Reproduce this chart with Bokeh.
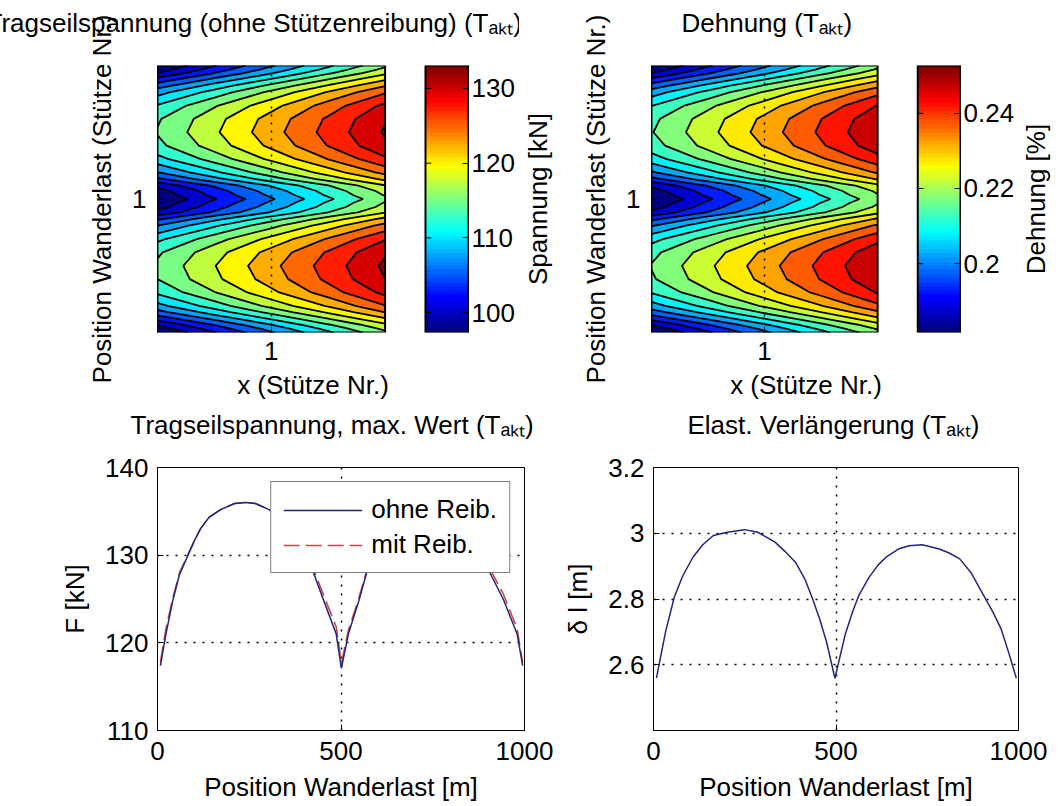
import numpy as np
from bokeh.plotting import figure
from bokeh.layouts import column, row
from bokeh.models import (FixedTicker, LinearAxis, Range1d, CustomJSTickFormatter,
                          LinearColorMapper, Legend, LegendItem)
from bokeh.embed import file_html
from bokeh.resources import INLINE

FONT = "Liberation Sans"
FS = "26px"

# ---------------- contour data (x along rope, y = load position, both in "Stütze Nr.") ----------
x_grid = [0.0, 0.5, 1.0, 1.5, 2.0]
y_grid = [0.00, 0.03, 0.06, 0.10, 0.15, 0.20, 0.30, 0.40, 0.50, 0.60, 0.70, 0.80, 0.85, 0.90,
          0.94, 0.97, 1.00, 1.03, 1.06, 1.10, 1.15, 1.20, 1.30, 1.40, 1.50, 1.60, 1.70, 1.80,
          1.85, 1.90, 1.94, 1.97, 2.00]

spannung = [
    [97.3, 102.3, 107.2, 112.0, 116.9],
    [98.8, 103.7, 108.5, 113.4, 118.2],
    [100.5, 105.3, 110.1, 114.9, 119.6],
    [103.2, 107.9, 112.6, 117.3, 122.1],
    [106.5, 111.1, 115.7, 120.3, 125.0],
    [109.2, 113.7, 118.3, 122.8, 127.4],
    [113.0, 117.4, 121.9, 126.3, 130.7],
    [115.0, 119.4, 123.7, 128.1, 132.5],
    [115.5, 119.9, 124.3, 128.6, 133.0],
    [114.6, 119.0, 123.4, 127.8, 132.2],
    [111.9, 116.4, 120.8, 125.3, 129.8],
    [107.5, 112.1, 116.7, 121.3, 125.9],
    [104.6, 109.3, 114.0, 118.7, 123.3],
    [100.7, 105.4, 110.2, 115.0, 119.8],
    [99.0, 103.9, 108.7, 113.5, 118.3],
    [98.3, 103.2, 108.0, 112.9, 117.7],
    [97.4, 102.3, 107.2, 112.0, 116.9],
    [98.3, 103.2, 108.0, 112.9, 117.7],
    [99.0, 103.8, 108.7, 113.5, 118.3],
    [100.6, 105.4, 110.2, 114.9, 119.8],
    [104.5, 109.2, 113.9, 118.6, 123.2],
    [107.4, 112.0, 116.6, 121.2, 125.8],
    [111.7, 116.1, 120.6, 125.1, 129.6],
    [114.3, 118.7, 123.1, 127.6, 132.0],
    [115.2, 119.6, 124.0, 128.4, 132.8],
    [114.7, 119.1, 123.5, 127.9, 132.3],
    [112.7, 117.2, 121.6, 126.1, 130.6],
    [109.0, 113.5, 118.1, 122.7, 127.2],
    [106.3, 111.0, 115.6, 120.2, 124.8],
    [103.1, 107.8, 112.5, 117.3, 122.0],
    [100.4, 105.2, 110.0, 114.8, 119.6],
    [98.8, 103.7, 108.5, 113.3, 118.2],
    [97.4, 102.3, 107.2, 112.0, 116.9],
]

dehnung = [
    [0.1818, 0.1917, 0.2014, 0.2109, 0.2206],
    [0.1848, 0.1945, 0.2040, 0.2137, 0.2232],
    [0.1881, 0.1976, 0.2071, 0.2166, 0.2259],
    [0.1935, 0.2028, 0.2121, 0.2214, 0.2309],
    [0.2000, 0.2091, 0.2182, 0.2273, 0.2366],
    [0.2053, 0.2143, 0.2234, 0.2323, 0.2414],
    [0.2129, 0.2216, 0.2305, 0.2392, 0.2479],
    [0.2168, 0.2255, 0.2341, 0.2428, 0.2515],
    [0.2178, 0.2265, 0.2352, 0.2438, 0.2525],
    [0.2160, 0.2248, 0.2335, 0.2422, 0.2509],
    [0.2107, 0.2196, 0.2283, 0.2372, 0.2461],
    [0.2020, 0.2111, 0.2202, 0.2293, 0.2384],
    [0.1962, 0.2055, 0.2149, 0.2242, 0.2333],
    [0.1885, 0.1978, 0.2073, 0.2168, 0.2263],
    [0.1852, 0.1949, 0.2044, 0.2139, 0.2234],
    [0.1838, 0.1935, 0.2030, 0.2127, 0.2222],
    [0.1820, 0.1917, 0.2014, 0.2109, 0.2206],
    [0.1838, 0.1935, 0.2030, 0.2127, 0.2222],
    [0.1852, 0.1947, 0.2044, 0.2139, 0.2234],
    [0.1883, 0.1978, 0.2073, 0.2166, 0.2263],
    [0.1960, 0.2053, 0.2147, 0.2240, 0.2331],
    [0.2018, 0.2109, 0.2200, 0.2291, 0.2382],
    [0.2103, 0.2190, 0.2279, 0.2368, 0.2457],
    [0.2154, 0.2242, 0.2329, 0.2418, 0.2505],
    [0.2172, 0.2259, 0.2347, 0.2434, 0.2521],
    [0.2162, 0.2249, 0.2337, 0.2424, 0.2511],
    [0.2123, 0.2212, 0.2299, 0.2388, 0.2477],
    [0.2050, 0.2139, 0.2230, 0.2321, 0.2410],
    [0.1996, 0.2089, 0.2180, 0.2271, 0.2362],
    [0.1933, 0.2026, 0.2119, 0.2214, 0.2307],
    [0.1879, 0.1974, 0.2069, 0.2164, 0.2259],
    [0.1848, 0.1945, 0.2040, 0.2135, 0.2232],
    [0.1820, 0.1917, 0.2014, 0.2109, 0.2206],
]

spannung_levels = [97.0, 100.0, 102.5, 105.0, 107.5, 110.0, 112.5, 115.0, 117.5, 120.0,
                   122.5, 125.0, 127.5, 130.0, 132.5, 134.0]
dehnung_levels = [0.181, 0.1875, 0.1925, 0.1975, 0.2025, 0.2075, 0.2125, 0.2175, 0.2225,
                  0.2275, 0.2325, 0.2375, 0.2425, 0.2475, 0.2525, 0.254]
spannung_lim = (97.33, 133.07)
dehnung_lim = (0.1817, 0.2527)
spannung_ticks = [100, 110, 120, 130]
dehnung_ticks = [0.20, 0.22, 0.24]

# ---------------- line data ----------------
pos_F = [8, 23, 41, 60, 79, 100, 117, 140, 172, 210, 240, 267, 304, 333, 360, 389, 417,
         454, 487, 501, 520, 548, 576, 615, 671, 736, 783, 839, 895, 942, 980, 995]
F_ohne = [117.4, 121.0, 124.7, 127.8, 129.6, 131.6, 133.0, 134.3, 135.2, 135.9, 136.0, 135.9,
          135.2, 134.3, 133.2, 131.8, 128.9, 124.7, 121.0, 117.1, 121.0, 124.7, 128.9, 131.4,
          133.5, 134.0, 133.5, 132.2, 128.9, 125.0, 121.0, 117.4]
F_mit = [117.8, 121.6, 125.0, 128.0, 129.7, 131.6, 133.0, 134.3, 135.2, 135.9, 136.0, 135.9,
         135.2, 134.3, 133.2, 131.9, 129.2, 125.3, 121.8, 117.6, 121.4, 125.0, 129.1, 131.5,
         133.5, 134.0, 133.5, 132.3, 129.3, 125.6, 121.6, 117.7]

pos_dl = [8, 33, 57, 80, 108, 135, 164, 202, 249, 286, 333, 360, 389, 415, 436, 455, 474,
          497, 510, 525, 545, 563, 590, 615, 640, 671, 700, 736, 783, 810, 839, 870, 904,
          930, 952, 975, 994]
dl = [2.559, 2.700, 2.806, 2.870, 2.927, 2.965, 2.993, 3.003, 3.011, 3.003, 2.973, 2.945,
      2.912, 2.860, 2.800, 2.740, 2.670, 2.559, 2.620, 2.691, 2.760, 2.812, 2.865, 2.903,
      2.930, 2.952, 2.962, 2.965, 2.952, 2.940, 2.922, 2.880, 2.812, 2.760, 2.710, 2.630,
      2.559]


def jet_hex(t):
    t = min(max(t, 0.0), 1.0)
    r = min(max(1.5 - abs(4 * t - 3), 0.0), 1.0)
    g = min(max(1.5 - abs(4 * t - 2), 0.0), 1.0)
    b = min(max(1.5 - abs(4 * t - 1), 0.0), 1.0)
    return "#%02x%02x%02x" % (round(r * 255), round(g * 255), round(b * 255))


JET64 = [jet_hex(i / 63) for i in range(64)]

TOP_H = 406
BOT_H = 400
# one top panel = contour box, white gap, colour bar (x in contour units)
X_END = 2.733
CB_X0 = 2.355


def trim_fmt():
    return CustomJSTickFormatter(code="return String(Number(tick.toFixed(3)));")


def style_axis(ax):
    ax.axis_line_color = "black"
    ax.major_tick_line_color = "black"
    ax.major_tick_in = 6
    ax.major_tick_out = 0
    ax.minor_tick_line_color = None
    ax.major_label_text_font = FONT
    ax.major_label_text_font_size = FS
    ax.major_label_text_color = "black"
    ax.axis_label_text_font = FONT
    ax.axis_label_text_font_size = FS
    ax.axis_label_text_font_style = "normal"
    ax.axis_label_text_color = "black"


def finish(p, title_offset, title_standoff, gap, spacer_tick):
    """left-aligned title, lifted above the frame by a blank spacer axis"""
    spacer = LinearAxis(ticker=FixedTicker(ticks=[spacer_tick]), axis_line_color=None,
                        major_tick_out=0, major_tick_in=0, major_label_standoff=gap - 2,
                        major_tick_line_color=None, minor_tick_line_color=None,
                        major_label_text_font_size="2px", major_label_text_color="white",
                        major_label_overrides={spacer_tick: " "}, axis_label=None)
    p.add_layout(spacer, "above")
    t = p.title
    t.text_font = FONT
    t.text_font_size = FS
    t.text_font_style = "normal"
    t.text_color = "black"
    t.align = "left"
    t.vertical_align = "bottom"
    t.offset = title_offset
    t.standoff = title_standoff


def contour_panel(z, levels, lim, cticks, title, title_offset, width, bl, br):
    lo, hi = lim
    p = figure(width=width, height=TOP_H, x_range=Range1d(0, X_END), y_range=Range1d(0, 2),
               output_backend="svg", toolbar_location=None, title=title,
               min_border_left=bl, min_border_right=br, min_border_top=64, min_border_bottom=74)
    p.background_fill_color = "white"
    p.border_fill_color = "white"
    xa = p.below[0]
    ya = p.left[0]
    fills = [jet_hex((lv - lo) / (hi - lo)) for lv in levels[:-1]]
    p.contour(x=x_grid, y=y_grid, z=np.array(z), levels=levels, fill_color=fills,
              line_color="black", line_width=1.8)
    # colour bar inside the same frame
    p.extra_y_ranges = {"cb": Range1d(lo, hi)}
    mapper = LinearColorMapper(palette=JET64, low=lo, high=hi)
    grad = np.linspace(lo, hi, 64).reshape(64, 1)
    p.image(image=[grad], x=CB_X0, y=lo, dw=X_END - CB_X0, dh=hi - lo,
            color_mapper=mapper, y_range_name="cb")
    n = len(cticks)
    p.segment(x0=[CB_X0] * n, y0=cticks, x1=[CB_X0 + 0.05] * n, y1=cticks,
              line_color="black", line_width=1, y_range_name="cb")
    p.quad(left=[0], right=[2], bottom=[0], top=[2], fill_color=None,
           line_color="black", line_width=2)
    p.quad(left=[CB_X0], right=[X_END], bottom=[0], top=[2], fill_color=None,
           line_color="black", line_width=2)
    p.outline_line_color = None
    cax = LinearAxis(y_range_name="cb", ticker=FixedTicker(ticks=cticks),
                     formatter=trim_fmt())
    p.add_layout(cax, "right")
    for ax in (xa, ya, cax):
        style_axis(ax)
    cax.major_label_standoff = 3
    xa.axis_line_color = None
    xa.ticker = FixedTicker(ticks=[1])
    xa.axis_label = "x (Stütze Nr.)"
    xa.major_label_standoff = 9
    xa.axis_label_standoff = 7
    ya.ticker = FixedTicker(ticks=[1])
    ya.axis_label = "Position Wanderlast (Stütze Nr.)"
    ya.major_label_standoff = 11
    ya.axis_label_standoff = 12
    p.xgrid.grid_line_color = "black"
    p.xgrid.grid_line_dash = "2 6"
    p.xgrid.grid_line_width = 1.5
    p.xgrid.level = "overlay"
    p.ygrid.visible = False
    finish(p, title_offset, 10, 20, 1)
    return p


def side_label(text, width, bl, bt, bb, standoff):
    """narrow blank strip whose left-axis label is the colour-bar caption"""
    p = figure(width=width, height=TOP_H, x_range=Range1d(0, 1), y_range=Range1d(0, 1),
               output_backend="svg", toolbar_location=None, x_axis_location=None,
               y_axis_location="left", min_border_left=bl, min_border_right=0,
               min_border_top=bt, min_border_bottom=bb)
    p.background_fill_color = "white"
    p.border_fill_color = "white"
    p.outline_line_color = None
    p.grid.visible = False
    ax = p.left[0]
    style_axis(ax)
    ax.ticker = FixedTicker(ticks=[])
    ax.axis_line_color = None
    ax.major_tick_in = 0
    ax.major_tick_out = 0
    ax.major_label_standoff = 0
    ax.axis_label = text
    ax.axis_label_standoff = standoff
    return p


def line_panel(title, title_offset, x_label, y_label, yr, yticks, width, bl, br):
    p = figure(width=width, height=BOT_H, x_range=Range1d(0, 1000), y_range=Range1d(*yr),
               output_backend="svg", toolbar_location=None, title=title,
               min_border_left=bl, min_border_right=br, min_border_top=59, min_border_bottom=76)
    p.background_fill_color = "white"
    p.border_fill_color = "white"
    p.outline_line_color = "black"
    p.outline_line_width = 1
    xa = p.below[0]
    ya = p.left[0]
    for ax in (xa, ya):
        style_axis(ax)
    xa.ticker = FixedTicker(ticks=[0, 500, 1000])
    xa.axis_label = x_label
    xa.major_label_standoff = 11
    xa.axis_label_standoff = 9
    ya.ticker = FixedTicker(ticks=yticks)
    ya.formatter = trim_fmt()
    ya.axis_label = y_label
    ya.major_label_standoff = 9
    ya.axis_label_standoff = 12
    p.grid.grid_line_color = "black"
    p.grid.grid_line_dash = "2 7"
    p.grid.grid_line_width = 1.5
    finish(p, title_offset, 2, 24, 500)
    return p


p1 = contour_panel(spannung, spannung_levels, spannung_lim, spannung_ticks,
                   "Tragseilspannung (ohne Stützenreibung) (Tₐₖₜ)", -171, 519, 157, 51)
s1 = side_label("Spannung [kN]", 51, 20, 48, 74, 0)
p2 = contour_panel(dehnung, dehnung_levels, dehnung_lim, dehnung_ticks,
                   "Dehnung (Tₐₖₜ)", 30, 447, 81, 55)
s2 = side_label("Dehnung [%]", 41, 20, 56, 74, 0)

p3 = line_panel("Tragseilspannung, max. Wert (Tₐₖₜ)", -27, "Position Wanderlast [m]",
                "F [kN]", (110, 140), [110, 120, 130, 140], 560, 157, 36)
r_mit = p3.line(pos_F, F_mit, line_color="#c84848", line_width=1.6, line_dash="16 6")
r_ohne = p3.line(pos_F, F_ohne, line_color="#22267e", line_width=1.5)
legend = Legend(items=[LegendItem(label="ohne Reib.", renderers=[r_ohne]),
                       LegendItem(label="mit Reib.", renderers=[r_mit])],
                location="top_right", label_text_font=FONT, label_text_font_size=FS,
                label_text_color="black", glyph_width=79, glyph_height=26, label_height=26,
                label_standoff=9, spacing=4, padding=12, margin=14,
                border_line_color="black", border_line_width=1,
                background_fill_color="white", background_fill_alpha=1.0)
p3.add_layout(legend)

p4 = line_panel("Elast. Verlängerung (Tₐₖₜ)", 34, "Position Wanderlast [m]", "δ l [m]",
                (2.4, 3.2), [2.6, 2.8, 3.0, 3.2], 498, 92, 40)
p4.line(pos_dl, dl, line_color="#22267e", line_width=1.5)

layout = column(row(p1, s1, p2, s2), row(p3, p4))
open("out.html", "w").write(file_html(layout, INLINE))
